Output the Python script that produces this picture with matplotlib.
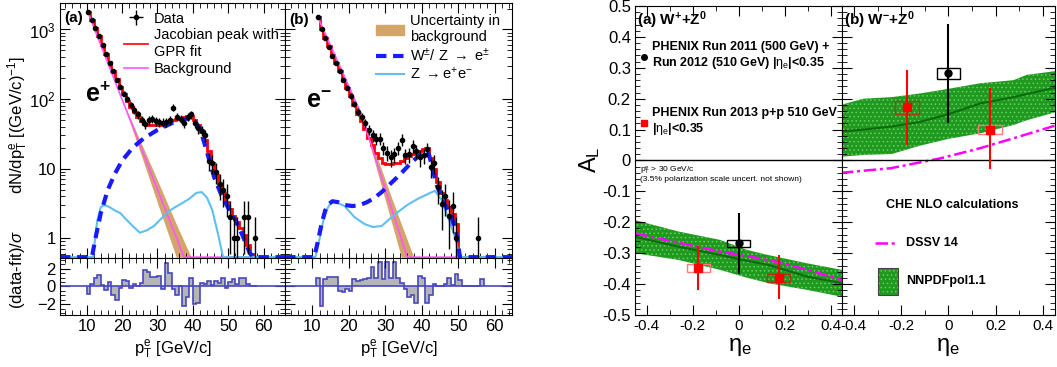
import numpy as np
import matplotlib
matplotlib.use('Agg')
import matplotlib.pyplot as plt
from matplotlib.patches import Rectangle, Patch
from matplotlib.lines import Line2D
from matplotlib.ticker import MultipleLocator, FixedLocator, FixedFormatter, LogLocator, NullFormatter

plt.rcParams['font.family'] = ['Liberation Sans', 'DejaVu Sans']
plt.rcParams['mathtext.fontset'] = 'custom'
plt.rcParams['mathtext.rm'] = 'Liberation Sans'
plt.rcParams['mathtext.it'] = 'Liberation Sans:italic'
plt.rcParams['mathtext.bf'] = 'Liberation Sans:bold'
plt.rcParams['hatch.linewidth'] = 0.6

# ---------------- left figure: e+ (a) ----------------
pt_a = [10.5, 11.5, 12.5, 13.5, 14.5, 15.5, 16.5, 17.5, 18.5, 19.5, 20.5, 21.5, 22.5, 23.5,
        24.5, 25.5, 26.5, 27.5, 28.5, 29.5, 30.5, 31.5, 32.5, 33.5, 34.5, 35.5, 36.5, 37.5,
        38.5, 39.5, 40.5, 41.5, 42.5, 43.5, 44.5, 45.5, 46.5, 47.5, 48.5, 49.5, 50.5, 51.5,
        52.5, 54.5, 55.5, 57.5]
data_a = [1800, 1380, 1050, 800, 590, 450, 330, 250, 190, 150, 120, 100, 82, 70, 60, 50, 44,
          50, 52, 48, 47, 46, 47, 50, 75, 55, 52, 45, 55, 60, 45, 38, 35, 30, 13, 12, 9, 6, 5,
          4, 2, 1, 1, 2, 2, 1]
err_a = [42, 37, 32, 28, 24, 21, 18, 16, 14, 12, 11, 10, 9, 8.4, 7.7, 7.1, 6.6, 7.1, 7.2, 6.9,
         6.9, 6.8, 6.9, 7.1, 8.7, 7.4, 7.2, 6.7, 7.4, 7.7, 6.7, 6.2, 5.9, 5.5, 3.6, 3.5, 3.0,
         2.4, 2.2, 2.0, 1.4, 1.0, 1.0, 1.4, 1.4, 1.0]
fit_edges_a = np.arange(10, 61)
fit_a = [1800, 1380, 1060, 810, 600, 450, 340, 255, 195, 150, 118, 95, 78, 65, 55, 48, 44, 42,
         42, 42, 43, 44, 46, 48, 50, 52, 54, 56, 58, 57, 50, 42, 34, 26, 18, 12, 8, 6, 4.5, 3.3,
         2.6, 2.1, 1.7, 1.4, 1.1, 0.8, 0.6, 0.535, 0.535, 0.535]
bg_pt_a = [10.5, 20, 30, 37.5, 60]
bg_a = [1700, 99, 5.0, 0.535, 0.535]
band_pt_a = [20, 25, 30, 35.3, 39.5]
band_lo_a = [99, 18, 3.2, 0.535, 0.535]
band_hi_a = [99, 26, 6.8, 1.6, 0.535]
w_pt_a = [2.5, 11.5, 12.5, 14, 16, 18, 20, 23, 26, 30, 34, 38, 40, 42, 44, 46, 48, 50, 52,
          54, 56, 57, 66]
w_a = [0.535, 0.535, 1.0, 2.3, 5, 8.5, 13, 20, 27, 36, 45, 52, 52, 38, 17, 7.5, 4.2, 2.7,
       1.8, 1.1, 0.62, 0.535, 0.535]
z_pt_a = [2.5, 11.8, 13, 14, 15, 16.5, 18, 19.5, 21, 23, 25, 27, 29, 31, 33, 35, 37, 39, 41,
          42.5, 44, 45.5, 47, 48.5, 66]
z_a = [0.535, 0.535, 1.8, 2.8, 3.0, 2.8, 2.5, 2.3, 1.9, 1.5, 1.2, 1.3, 1.5, 1.9, 2.4, 2.8,
       3.2, 3.7, 4.5, 4.6, 3.8, 2.5, 1.2, 0.535, 0.535]
res_edges_a = np.arange(10, 59)
res_a = [-0.8, 0.3, 0.9, 1.3, 0.2, -0.4, 0.5, -1.0, -1.5, -0.2, 0.7, 0.6, -0.2, 0.3, 0.0,
         0.4, 1.8, 1.6, 1.1, 1.1, 1.2, -0.3, 2.6, 1.5, -0.3, -1.0, 0.0, -2.2, -1.2, 1.0,
         -2.0, -1.8, 0.4, 0.3, 0.6, 0.2, 0.6, 0.4, 0.9, -0.2, 0.5, 0.8, 0.3, 1.0, 1.0, 0.3,
         0.0, 0.0]

# ---------------- left figure: e- (b) ----------------
pt_b = [11.5, 12.5, 13.5, 14.5, 15.5, 16.5, 17.5, 18.5, 19.5, 20.5, 21.5, 22.5, 23.5, 24.5,
        25.5, 26.5, 27.5, 28.5, 29.5, 30.5, 31.5, 32.5, 33.5, 34.5, 35.5, 36.5, 37.5, 38.5,
        39.5, 40.5, 41.5, 42.5, 43.5, 44.5, 45.5, 46.5, 47.5, 48.5, 49.5, 55.5]
data_b = [1500, 1000, 760, 560, 420, 330, 250, 190, 145, 110, 85, 66, 55, 45, 36, 30, 27, 27,
          20, 17, 14.5, 16, 20, 26, 15.5, 16, 21.5, 18, 14.5, 15.5, 19, 10.5, 12, 5.4, 3.1,
          4.1, 2.1, 2.9, 1.0, 1.0]
err_b = [39, 32, 28, 24, 20, 18, 16, 14, 12, 10.5, 9.2, 8.1, 7.4, 6.7, 6, 5.5, 5.2, 5.2, 4.5,
         4.1, 3.8, 4, 4.5, 5.1, 3.9, 4, 4.6, 4.2, 3.8, 3.9, 4.4, 3.2, 3.5, 2.3, 1.8, 2.0, 1.4,
         1.7, 1.0, 1.0]
fit_edges_b = np.arange(11, 61)
fit_b = [1500, 1020, 760, 570, 430, 330, 250, 190, 145, 110, 82, 62, 48, 37, 28, 22, 17, 14,
         12, 11.5, 11.5, 12, 12, 13, 14, 15, 16, 17, 18, 19, 20, 14, 10, 6.5, 4.5, 3.5, 2.8,
         2.2, 1.6, 0.535, 0.535, 0.535, 0.535, 0.535, 0.535, 0.535, 0.535, 0.535, 0.535]
bg_pt_b = [11.5, 23.4, 36, 60]
bg_b = [1500, 61, 0.535, 0.535]
band_pt_b = [23.4, 28, 32, 34.4, 37.8]
band_lo_b = [61, 8.3, 1.5, 0.535, 0.535]
band_hi_b = [61, 13.5, 3.5, 1.6, 0.535]
w_pt_b = [2.5, 10.5, 11.5, 12.5, 13.5, 14.5, 15.5, 17, 19, 21, 23, 25, 27, 29, 31, 33, 35,
          37, 39, 41, 42, 44, 46, 48, 49.5, 50.5, 65]
w_b = [0.535, 0.535, 0.9, 1.6, 2.5, 3.1, 3.4, 3.3, 3.0, 2.9, 3.0, 3.3, 3.8, 4.6, 5.8, 7.3,
       9.3, 12, 15, 18, 16, 6, 3.3, 2.1, 1.2, 0.535, 0.535]
z_pt_b = [2.5, 10.8, 12, 13, 14, 15, 16, 18.8, 21.6, 24.3, 26.6, 29, 32.6, 36, 39, 42, 43.6,
          45.4, 47.2, 48.5, 49.5, 50.2, 65]
z_b = [0.535, 0.535, 1.0, 1.8, 2.6, 3.2, 3.4, 2.9, 2.0, 1.6, 1.45, 1.5, 2.2, 3.0, 3.7, 4.4,
       4.8, 3.6, 2.0, 1.3, 0.9, 0.535, 0.535]
res_edges_b = np.arange(11, 58)
res_b = [1.0, -2.2, 0.8, 1.1, 1.1, 1.1, -0.5, -0.6, -0.3, -0.5, 0.8, 0.6, 0.7, 0.8, 0.9, 2.2,
         0.9, 2.8, 0.8, 2.8, 1.0, 2.8, 1.0, 0.4, -0.3, -1.2, -1.0, -1.8, 1.2, 1.0, -1.8, -0.9,
         0.3, 0.0, 0.0, 0.3, 0.9, 0.2, 1.4, 0.7, 0.0, 0.0, 0.0, 0.0, 0.0, 0.8]

# ---------------- right figure: A_L ----------------
blk_eta = [0.0]
blk_al_a, blk_err_a = [-0.268], [0.099]
blk_al_b, blk_err_b = [0.282], [0.160]
red_eta = [-0.175, 0.175]
red_al_a = [-0.349, -0.381]
red_err_a = [[0.070, 0.068], [0.072, 0.075]]
red_al_b = [0.172, 0.100]
red_err_b = [[0.122, 0.128], [0.121, 0.134]]
box_dx = 0.05
box_dy_blk = [0.011, 0.018]
box_dy_red_a = [0.013, 0.013]
box_dy_red_b = [0.020, 0.014]

nn_eta_a = [-0.45, -0.26, -0.08, 0.04, 0.13, 0.30, 0.45]
nn_hi_a = [-0.193, -0.23, -0.257, -0.29, -0.306, -0.333, -0.354]
nn_lo_a = [-0.30, -0.322, -0.354, -0.38, -0.397, -0.419, -0.441]
nn_c_a = [-0.247, -0.279, -0.306, -0.325, -0.338, -0.376, -0.397]
dssv_a = [-0.236, -0.266, -0.295, -0.31, -0.322, -0.354, -0.387]

nn_eta_b = [-0.455, -0.36, -0.24, -0.12, 0.0, 0.135, 0.275, 0.33, 0.46]
nn_hi_b = [0.18, 0.20, 0.205, 0.217, 0.232, 0.25, 0.26, 0.277, 0.29]
nn_lo_b = [0.012, 0.018, 0.021, 0.048, 0.07, 0.088, 0.115, 0.13, 0.158]
nn_c_b = [0.093, 0.10, 0.11, 0.125, 0.15, 0.185, 0.205, 0.215, 0.237]
dssv_eta_b = [-0.455, -0.244, -0.034, 0.135, 0.275, 0.46]
dssv_b = [-0.04, -0.025, 0.007, 0.04, 0.072, 0.115]

RED = '#ff0000'
MAG = '#ff55ff'
TAN = '#d4a56a'
BLUE = '#1a1aff'
CYAN = '#5fbfef'
GREEN = '#1f9a1f'
WDASH = (2.5, 1.6)

def root_ticks(ax, size=11):
    ax.tick_params(which='both', direction='in', top=True, right=True, labelsize=size, pad=3)
    ax.tick_params(which='major', length=7)
    ax.tick_params(which='minor', length=3.5)

fig = plt.figure(figsize=(10.57, 3.67), dpi=100)

def spectrum_panel(rect, pt, data, err, edges, fit, bgp, bg, bandp, blo, bhi,
                   wp, w, zp, z, xmax, show_y):
    ax = fig.add_axes(rect)
    ax.set_yscale('log')
    ax.fill_between(bandp, blo, bhi, color=TAN, lw=0)
    ax.plot(bgp, bg, color=MAG, lw=1.2)
    ax.plot(zp, z, color=CYAN, lw=1.5)
    ax.plot(wp, w, color=BLUE, lw=3, dashes=WDASH)
    ax.stairs(fit, edges, color=RED, lw=2, baseline=None)
    eb = ax.errorbar(pt, data, yerr=err, xerr=0.5, fmt='o', ms=3, color='k', lw=1,
                     capsize=0)
    ax.set_xlim(2.5, xmax)
    ax.set_ylim(0.52, 2400)
    ax.yaxis.set_major_locator(FixedLocator([1, 10, 100, 1000]))
    ax.yaxis.set_major_formatter(FixedFormatter(['1', '10', r'$10^2$', r'$10^3$']))
    ax.yaxis.set_minor_locator(LogLocator(base=10, subs=np.arange(2, 10)))
    ax.yaxis.set_minor_formatter(NullFormatter())
    ax.xaxis.set_major_locator(MultipleLocator(10))
    ax.xaxis.set_minor_locator(MultipleLocator(2))
    root_ticks(ax, 12)
    ax.tick_params(labelbottom=False, labelleft=show_y)
    return ax, eb

def resid_panel(rect, edges, res, xmax, show_y):
    ax = fig.add_axes(rect)
    ax.stairs(res, edges, baseline=0, fill=True, color='#b5b5b5')
    ax.axhline(0, color='#4848c0', lw=1.2)
    ax.stairs(res, edges, baseline=0, color='#4848c0', lw=1.2)
    ax.set_xlim(2.5, xmax)
    ax.set_ylim(-3.2, 3.2)
    ax.yaxis.set_major_locator(FixedLocator([-2, 0, 2]))
    ax.yaxis.set_minor_locator(MultipleLocator(0.5))
    ax.xaxis.set_major_locator(MultipleLocator(10))
    ax.xaxis.set_minor_locator(MultipleLocator(2))
    root_ticks(ax, 12)
    ax.tick_params(labelleft=show_y)
    ax.set_xlabel(r'p$_{\mathrm{T}}^{\mathrm{e}}$ [GeV/c]', fontsize=12, labelpad=3)
    return ax

ax1, eb1 = spectrum_panel([0.0568, 0.297, 0.2129, 0.6948], pt_a, data_a, err_a, fit_edges_a,
                          fit_a, bg_pt_a, bg_a, band_pt_a, band_lo_a, band_hi_a,
                          w_pt_a, w_a, z_pt_a, z_a, 66, True)
ax2, eb2 = spectrum_panel([0.2697, 0.297, 0.2148, 0.6948], pt_b, data_b, err_b, fit_edges_b,
                          fit_b, bg_pt_b, bg_b, band_pt_b, band_lo_b, band_hi_b,
                          w_pt_b, w_b, z_pt_b, z_b, 64.8, False)
r1 = resid_panel([0.0568, 0.1417, 0.2129, 0.1553], res_edges_a, res_a, 66, True)
r2 = resid_panel([0.2697, 0.1417, 0.2148, 0.1553], res_edges_b, res_b, 64.8, False)

ax1.text(0.02, 0.97, '(a)', transform=ax1.transAxes, fontsize=11, fontweight='bold',
         va='top')
ax2.text(0.02, 0.96, '(b)', transform=ax2.transAxes, fontsize=11, fontweight='bold',
         va='top')
ax1.text(0.11, 0.61, r'e$^{\mathbf{+}}$', transform=ax1.transAxes, fontsize=18,
         fontweight='bold')
ax2.text(0.09, 0.59, r'e$^{\mathbf{-}}$', transform=ax2.transAxes, fontsize=18,
         fontweight='bold')

ax1.legend([eb1, Line2D([], [], color=RED, lw=1.2), Line2D([], [], color=MAG, lw=1.2)],
           ['Data', 'Jacobian peak with\nGPR fit', 'Background'],
           loc='upper left', bbox_to_anchor=(0.25, 0.995), frameon=False, fontsize=10.5,
           handlelength=1.7, handletextpad=0.4, labelspacing=0.2, borderaxespad=0.1)
ax2.legend([Patch(color=TAN), Line2D([], [], color=BLUE, lw=3, dashes=WDASH),
            Line2D([], [], color=CYAN, lw=1.5)],
           ['Uncertainty in\nbackground', r'W$^{\pm}$/ Z $\rightarrow$ e$^{\pm}$',
            r'Z $\rightarrow$e$^{+}$e$^{-}$'],
           loc='upper left', bbox_to_anchor=(0.37, 0.985), frameon=False, fontsize=10.5,
           handlelength=1.9, handletextpad=0.4, labelspacing=0.15, borderaxespad=0.1)

fig.text(0.017, 0.66, r'dN/dp$_{\mathrm{T}}^{\mathrm{e}}$ [(GeV/c)$^{-1}$]', rotation=90,
         ha='center', va='center', fontsize=12)
fig.text(0.017, 0.265, r'(data-fit)/$\sigma$', rotation=90, ha='center', va='center',
         fontsize=12)

# ---------------- right panels ----------------
def fmt_tick(v, pos):
    return '0' if abs(v) < 1e-9 else '%.1f' % v

def asym_panel(rect, nn_eta, nn_lo, nn_hi, nn_c, d_eta, dssv, blk_al, blk_err, blk_dy,
               red_al, red_err, red_dy, red_box_cols, show_y):
    ax = fig.add_axes(rect)
    ax.fill_between(nn_eta, nn_lo, nn_hi, facecolor=GREEN, edgecolor='#66cc66', hatch='....',
                    lw=0)
    ax.plot(nn_eta, nn_c, color='#0d6a0d', lw=1.5)
    ax.plot(d_eta, dssv, color='#ff00ff', lw=1.8, dashes=(5, 1.5, 1.2, 1.5))
    ax.axhline(0, color='k', lw=1)
    ax.add_patch(Rectangle((blk_eta[0] - box_dx, blk_al[0] - blk_dy), 2 * box_dx, 2 * blk_dy,
                           fill=False, ec='k', lw=1))
    for e, a, dy, c in zip(red_eta, red_al, red_dy, red_box_cols):
        ax.add_patch(Rectangle((e - box_dx, a - dy), 2 * box_dx, 2 * dy, fill=False, ec=c,
                               lw=1))
    ax.errorbar(blk_eta, blk_al, yerr=blk_err, fmt='o', ms=5, color='k', lw=1.5, capsize=0)
    ax.errorbar(red_eta, red_al, yerr=red_err, fmt='s', ms=5.5, color=RED, lw=1.5,
                capsize=0)
    ax.set_xlim(-0.45, 0.45)
    ax.set_ylim(-0.5, 0.5)
    ax.yaxis.set_major_locator(MultipleLocator(0.1))
    ax.yaxis.set_minor_locator(MultipleLocator(0.02))
    ax.xaxis.set_major_locator(MultipleLocator(0.2))
    ax.xaxis.set_minor_locator(MultipleLocator(0.1))
    ax.xaxis.set_major_formatter(plt.FuncFormatter(fmt_tick))
    ax.yaxis.set_major_formatter(plt.FuncFormatter(fmt_tick))
    root_ticks(ax, 12)
    ax.tick_params(axis='x', labelsize=11)
    ax.tick_params(labelleft=show_y)
    return ax

ra = asym_panel([0.6008, 0.1417, 0.1958, 0.842], nn_eta_a, nn_lo_a, nn_hi_a, nn_c_a,
                nn_eta_a, dssv_a, blk_al_a, blk_err_a, box_dy_blk[0], red_al_a, red_err_a,
                box_dy_red_a, ['#ff7a7a', '#a8341c'], True)
rb = asym_panel([0.7966, 0.1417, 0.2015, 0.842], nn_eta_b, nn_lo_b, nn_hi_b, nn_c_b,
                dssv_eta_b, dssv_b, blk_al_b, blk_err_b, box_dy_blk[1], red_al_b, red_err_b,
                box_dy_red_b, ['#a0401c', '#ff7a7a'], False)

ra.text(-0.44, 0.49, r'(a) W$^{\mathbf{+}}$+Z$^{\mathbf{0}}$', fontsize=11, fontweight='bold',
        va='top')
rb.text(-0.44, 0.49, r'(b) W$^{\mathbf{-}}$+Z$^{\mathbf{0}}$', fontsize=11, fontweight='bold',
        va='top')
ra.plot([-0.41], [0.335], 'o', color='k', ms=4)
ra.text(-0.375, 0.367, 'PHENIX Run 2011 (500 GeV) +', fontsize=9, fontweight='bold',
        va='center')
ra.text(-0.375, 0.317, r'Run 2012 (510 GeV) |$\mathrm{\eta}_{\mathrm{e}}$|<0.35', fontsize=9,
        fontweight='bold', va='center')
ra.plot([-0.41], [0.121], 's', color=RED, ms=5)
ra.text(-0.375, 0.154, 'PHENIX Run 2013 p+p 510 GeV', fontsize=9, fontweight='bold',
        va='center')
ra.text(-0.375, 0.103, r'|$\mathrm{\eta}_{\mathrm{e}}$|<0.35', fontsize=9,
        fontweight='bold', va='center')
ra.text(-0.43, -0.035, r'p$_{\mathrm{T}}^{\mathrm{e}}$ > 30 GeV/c', fontsize=6, va='center')
ra.text(-0.43, -0.062, '(3.5% polarization scale uncert. not shown)', fontsize=6,
        va='center')

rb.text(-0.265, -0.145, 'CHE NLO calculations', fontsize=9, fontweight='bold', va='center')
rb.plot([-0.31, -0.215], [-0.267, -0.267], color='#ff00ff', lw=1.8, dashes=(5, 1.5, 1.2, 1.5))
rb.text(-0.18, -0.267, 'DSSV 14', fontsize=9, fontweight='bold', va='center')
rb.add_patch(Rectangle((-0.30, -0.435), 0.085, 0.087, facecolor=GREEN, edgecolor='#66cc66',
                       hatch='....', lw=0))
rb.add_patch(Rectangle((-0.30, -0.435), 0.085, 0.087, fill=False, edgecolor='#444444', lw=0.8))
rb.text(-0.18, -0.39, 'NNPDFpol1.1', fontsize=9, fontweight='bold', va='center')

fig.text(590 / 1057, 1 - 160 / 367, r'A$_{\mathrm{L}}$', rotation=90, ha='center',
         va='center', fontsize=17)
fig.text(740 / 1057, 1 - 347 / 367, r'$\mathrm{\eta}_{\mathrm{e}}$', ha='center',
         va='center', fontsize=17)
fig.text(948 / 1057, 1 - 347 / 367, r'$\mathrm{\eta}_{\mathrm{e}}$', ha='center',
         va='center', fontsize=17)

fig.savefig('out.png', dpi=100)
